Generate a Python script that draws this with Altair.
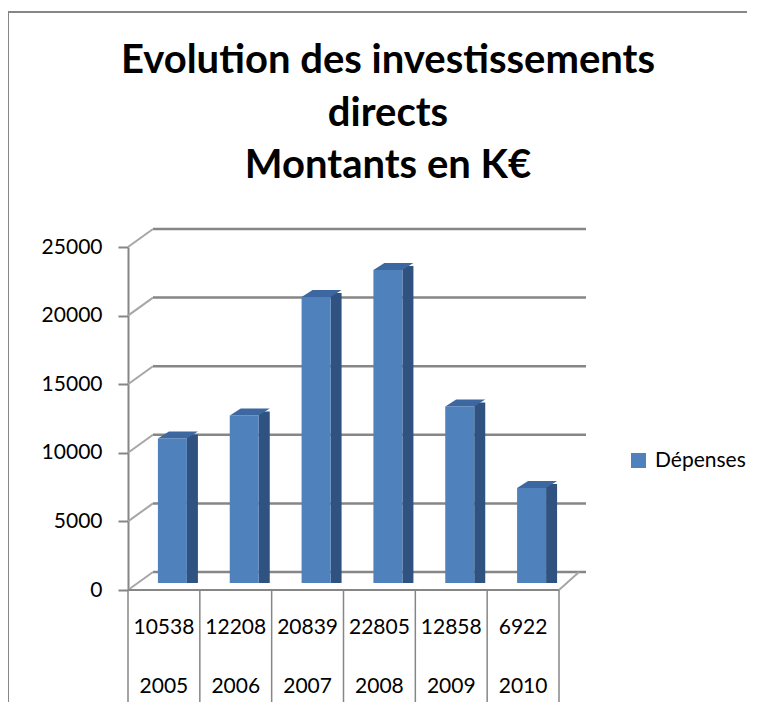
import altair as alt
import pandas as pd

years = ["2005", "2006", "2007", "2008", "2009", "2010"]
values = [10538, 12208, 20839, 22805, 12858, 6922]
series_name = "Dépenses"
y_ticks = [0, 5000, 10000, 15000, 20000, 25000]
title_lines = ["Evolution des investissements", "directs", "Montants en K€"]

FONT = "Lato"
W, H = 431, 343
DX, DY = 25, -18  # depth offset of the back wall
GRID = "#868686"

df = pd.DataFrame({"year": years, "value": values, "series": [series_name] * len(years)})
ticks = pd.DataFrame({"t": y_ticks})
last = df.iloc[[-1]]

xs = alt.X("year:N", scale=alt.Scale(paddingInner=0, paddingOuter=0), axis=None)
yscale = alt.Scale(domain=[0, 25000])
yaxis = alt.Axis(values=y_ticks, grid=False, domainColor=GRID, domainWidth=2,
                 tickColor=GRID, tickWidth=2, tickSize=10, labelPadding=16,
                 labelFont=FONT, labelFontSize=21, labelColor="#000000", format="d")


def Y(field):
    return alt.Y(field, scale=yscale, title=None, axis=yaxis)


# back wall gridlines
back_grid = alt.Chart(ticks).mark_rule(color=GRID, strokeWidth=2.5, yOffset=DY).encode(
    y=Y("t:Q"), x=alt.value(DX), x2=alt.value(W + 27),
)
# side-wall diagonal connectors
connectors = alt.Chart(ticks).mark_rule(color="#a6a6a6", strokeWidth=2, y2Offset=DY).encode(
    y=Y("t:Q"), y2="t:Q", x=alt.value(0), x2=alt.value(DX),
)
# floor front edge and right diagonal
floor_front = alt.Chart(ticks[ticks.t == 0]).mark_rule(color=GRID, strokeWidth=2).encode(
    y=Y("t:Q"), x=alt.value(0), x2=alt.value(W),
)
floor_right = alt.Chart(ticks[ticks.t == 0]).mark_rule(color="#a6a6a6", strokeWidth=2, y2Offset=DY).encode(
    y=Y("t:Q"), y2="t:Q", x=alt.value(W), x2=alt.value(W + 20),
)

# data table vertical lines
table_lines = alt.Chart(df).mark_rule(color=GRID, strokeWidth=1.5).encode(
    x=alt.X("year:N", scale=alt.Scale(paddingInner=0, paddingOuter=0), axis=None, bandPosition=0),
    y=alt.value(H), y2=alt.value(H + 140),
)
table_last = alt.Chart(last).mark_rule(color=GRID, strokeWidth=1.5).encode(
    x=alt.X("year:N", scale=alt.Scale(paddingInner=0, paddingOuter=0), axis=None, bandPosition=1),
    y=alt.value(H), y2=alt.value(H + 140),
)

# bar side faces
side = alt.Chart(df).mark_bar(color="#2f5280", width=11, xOffset=28.5, yOffset=-11, y2Offset=-7).encode(
    x=xs, y=Y("value:Q"), y2=alt.datum(0),
)
# bar front faces (with legend)
front = alt.Chart(df).mark_bar(width=29, xOffset=8.5, yOffset=-7, y2Offset=-7).encode(
    x=xs,
    y=Y("value:Q"),
    y2=alt.datum(0),
    color=alt.Color("series:N", scale=alt.Scale(domain=[series_name], range=["#4f81bd"]),
                    legend=alt.Legend(title=None, orient="none", legendX=500, legendY=203,
                                      symbolType="square", symbolSize=225, symbolStrokeWidth=0,
                                      labelFont=FONT, labelFontSize=21, labelColor="#000000",
                                      labelOffset=6)),
)
# bar top faces
top_shape = "M -1 0.175 L 0.45 0.175 L 1 -0.175 L -0.45 -0.175 Z"
top = alt.Chart(df).mark_point(shape=top_shape, size=1600, filled=True, opacity=1,
                               color="#3d67a0", strokeWidth=0, xOffset=14, yOffset=-10.5).encode(
    x=xs, y=Y("value:Q"),
)

# data table text
row_values = alt.Chart(df).mark_text(font=FONT, fontSize=21, color="#000000").encode(
    x=xs, y=alt.value(H + 38), text=alt.Text("value:Q", format="d"),
)
row_years = alt.Chart(df).mark_text(font=FONT, fontSize=21, color="#000000").encode(
    x=xs, y=alt.value(H + 97), text="year:N",
)

# outer chart frame
frame_left = alt.Chart(ticks[ticks.t == 0]).mark_rule(color=GRID, strokeWidth=2).encode(
    x=alt.value(-120), y=alt.value(-235), y2=alt.value(H + 140),
)
frame_top = alt.Chart(ticks[ticks.t == 0]).mark_rule(color=GRID, strokeWidth=2).encode(
    x=alt.value(-120), x2=alt.value(W + 200), y=alt.value(-235),
)

# chart title (three lines)
title = alt.Chart(ticks[ticks.t == 0]).mark_text(
    text=title_lines, font=FONT, fontSize=40, fontWeight="bold", color="#000000",
    align="center", baseline="alphabetic", lineHeight=52.5,
).encode(x=alt.value(260), y=alt.value(-174))

chart = alt.layer(
    back_grid, connectors, floor_front, floor_right, frame_left, frame_top,
    table_lines, table_last, side, front, top, row_values, row_years, title,
).properties(
    width=W, height=H,
    autosize=alt.AutoSizeParams(type="none"),
    padding={"left": 120, "top": 239, "right": 188, "bottom": 112},
).configure_view(stroke=None)

chart.save("out.html", embed_options={"renderer": "svg", "actions": False})
